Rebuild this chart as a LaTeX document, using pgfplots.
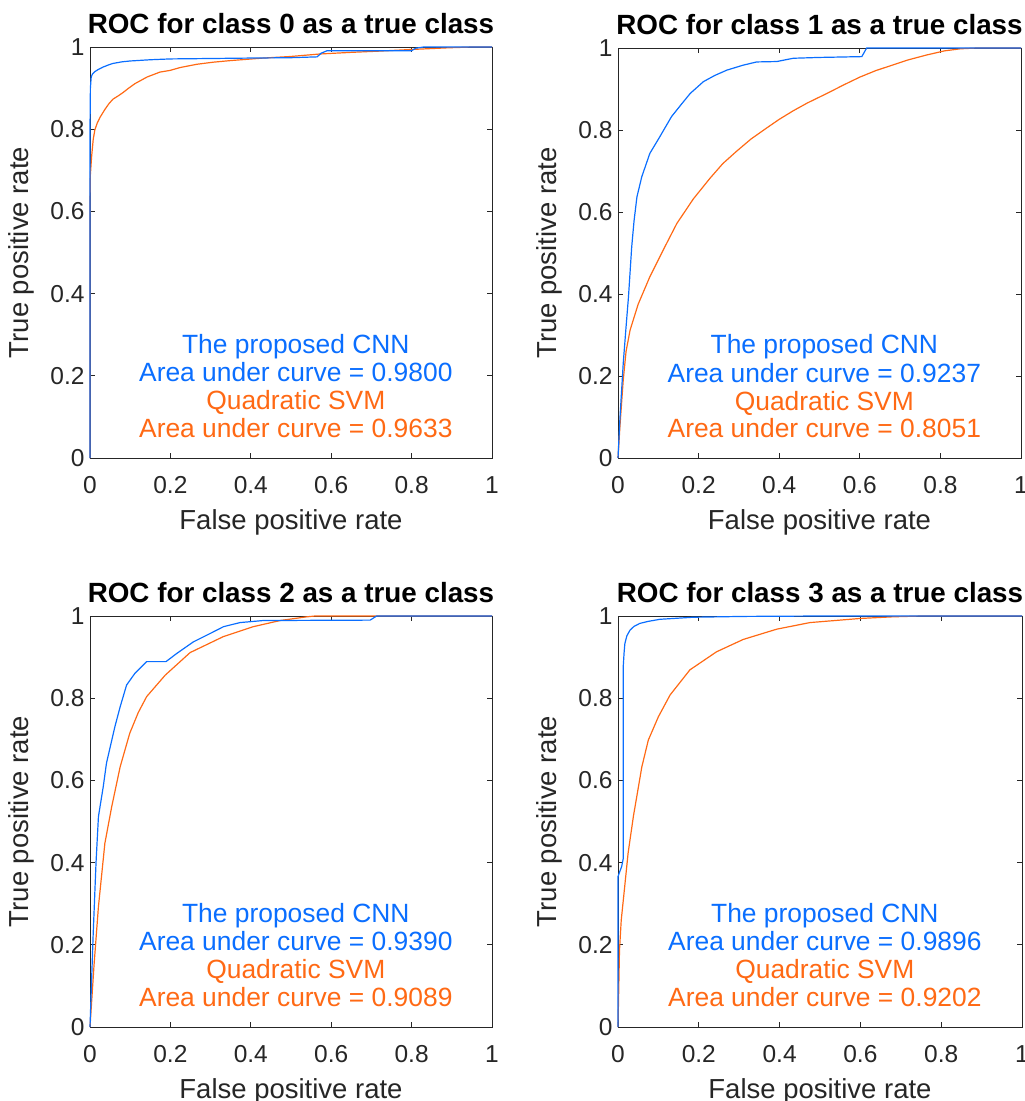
\documentclass[border=0pt]{standalone}
\usepackage{fontspec}
\setmainfont{Liberation Sans}
\usepackage{pgfplots}
\pgfplotsset{compat=1.18}
\definecolor{cnn}{RGB}{10,110,255}
\definecolor{svm}{RGB}{255,105,20}
\definecolor{axgray}{RGB}{38,38,38}
\pgfplotsset{rocax/.style={
  scale only axis, xmin=0,xmax=1,ymin=0,ymax=1, clip=false,
  xtick={0,0.2,0.4,0.6,0.8,1}, ytick={0,0.2,0.4,0.6,0.8,1},
  tick align=inside, major tick length=5pt,
  axis line style={axgray, line width=0.8pt},
  every tick/.style={axgray, line width=0.8pt},
  /pgf/number format/assume math mode=true,
  ticklabel style={font=\fontsize{24.5}{28}\selectfont, text=axgray},
  xticklabel style={yshift=-15pt},
  yticklabel style={xshift=-2pt},
  xlabel={False positive rate}, ylabel={True positive rate},
  every axis x label/.style={at={(axis description cs:0.5,-0.175)}, anchor=base, font=\fontsize{27.5}{30}\selectfont, text=axgray},
  every axis y label/.style={at={(axis description cs:-0.152,0.5)}, rotate=90, anchor=base, font=\fontsize{27.5}{30}\selectfont, text=axgray},
  every axis title/.style={at={(axis description cs:0.5,1.034)}, anchor=base, font=\bfseries\fontsize{27.8}{30}\selectfont},
},
cnnline/.style={cnn, line width=1.2pt},
svmline/.style={svm, line width=1.2pt},
}
\newcommand\auc[2]{%
  \node[anchor=base, text=cnn, font=\fontsize{26.4}{28}\selectfont] at (axis cs:0.512,0.255) {The proposed CNN};
  \node[anchor=base, text=cnn, font=\fontsize{26.4}{28}\selectfont] at (axis cs:0.512,0.185) {Area under curve = #1};
  \node[anchor=base, text=svm, font=\fontsize{26.4}{28}\selectfont] at (axis cs:0.512,0.117) {Quadratic SVM};
  \node[anchor=base, text=svm, font=\fontsize{26.4}{28}\selectfont] at (axis cs:0.512,0.049) {Area under curve = #2};
}
\begin{document}
\begin{tikzpicture}
\path[use as bounding box] (0pt,0pt) rectangle (1025pt,-1101pt);

% ---------- class 0
\begin{axis}[rocax, at={(90pt,-458pt)}, anchor=south west, width=402pt, height=411pt,
  title={ROC for class 0 as a true class}]
\addplot[svmline] coordinates {(0,0) (0,0.62) (0.001,0.69) (0.004,0.733) (0.008,0.775) (0.012,0.798) (0.018,0.815) (0.025,0.829) (0.037,0.848) (0.047,0.862) (0.057,0.873) (0.07,0.881) (0.082,0.889) (0.095,0.899) (0.112,0.911) (0.127,0.919) (0.142,0.927) (0.158,0.933) (0.174,0.939) (0.199,0.943) (0.224,0.950) (0.266,0.958) (0.306,0.963) (0.35,0.967) (0.43,0.973) (0.5,0.977) (0.572,0.983) (0.65,0.987) (0.72,0.990) (0.8,0.994) (0.89,0.998) (0.95,1) (1,1)};
\addplot[cnnline] coordinates {(0,0) (0,0.80) (0.001,0.90) (0.003,0.927) (0.006,0.934) (0.012,0.940) (0.02,0.945) (0.032,0.951) (0.045,0.956) (0.057,0.960) (0.08,0.964) (0.10,0.966) (0.15,0.969) (0.2,0.971) (0.3,0.972) (0.39,0.973) (0.5,0.974) (0.565,0.976) (0.575,0.985) (0.59,0.991) (0.8,0.991) (0.81,0.997) (0.83,1) (1,1)};
\auc{0.9800}{0.9633}
\end{axis}

% ---------- class 1
\begin{axis}[rocax, at={(618pt,-458pt)}, anchor=south west, width=403pt, height=410pt,
  title={ROC for class 1 as a true class}]
\addplot[svmline] coordinates {(0,0) (0.005,0.08) (0.013,0.19) (0.02,0.26) (0.03,0.312) (0.05,0.375) (0.079,0.442) (0.112,0.507) (0.146,0.572) (0.187,0.632) (0.228,0.682) (0.26,0.718) (0.294,0.748) (0.33,0.778) (0.369,0.805) (0.40,0.826) (0.435,0.847) (0.47,0.866) (0.518,0.889) (0.56,0.91) (0.600,0.929) (0.64,0.945) (0.683,0.959) (0.72,0.971) (0.766,0.983) (0.81,0.993) (0.849,0.998) (0.89,1) (1,1)};
\addplot[cnnline] coordinates {(0,0) (0.005,0.1) (0.013,0.231) (0.02,0.32) (0.026,0.393) (0.034,0.515) (0.04,0.58) (0.047,0.637) (0.059,0.686) (0.079,0.743) (0.104,0.784) (0.133,0.833) (0.155,0.86) (0.179,0.889) (0.212,0.918) (0.24,0.933) (0.270,0.946) (0.31,0.958) (0.344,0.966) (0.394,0.967) (0.435,0.975) (0.5,0.977) (0.605,0.979) (0.617,1) (1,1)};
\auc{0.9237}{0.8051}
\end{axis}

% ---------- class 2
\begin{axis}[rocax, at={(90pt,-1027pt)}, anchor=south west, width=402pt, height=411pt,
  title={ROC for class 2 as a true class}]
\addplot[svmline] coordinates {(0,0) (0.01,0.15) (0.021,0.293) (0.037,0.447) (0.054,0.536) (0.075,0.633) (0.099,0.715) (0.12,0.765) (0.141,0.804) (0.187,0.856) (0.249,0.911) (0.332,0.950) (0.406,0.974) (0.473,0.989) (0.539,0.998) (0.56,1) (1,1)};
\addplot[cnnline] coordinates {(0,0) (0.008,0.228) (0.015,0.4) (0.021,0.512) (0.033,0.585) (0.041,0.642) (0.062,0.731) (0.075,0.779) (0.091,0.832) (0.112,0.861) (0.141,0.889) (0.189,0.889) (0.216,0.909) (0.257,0.937) (0.3,0.958) (0.332,0.974) (0.373,0.984) (0.431,0.989) (0.697,0.99) (0.713,1) (1,1)};
\auc{0.9390}{0.9089}
\end{axis}

% ---------- class 3
\begin{axis}[rocax, at={(618pt,-1027pt)}, anchor=south west, width=404pt, height=411pt,
  title={ROC for class 3 as a true class}]
\addplot[svmline] coordinates {(0,0) (0.0037,0.187) (0.008,0.26) (0.0165,0.341) (0.025,0.423) (0.038,0.512) (0.059,0.633) (0.075,0.698) (0.1,0.755) (0.129,0.808) (0.178,0.869) (0.244,0.913) (0.31,0.943) (0.393,0.968) (0.475,0.984) (0.599,0.994) (0.68,0.998) (0.75,1) (1,1)};
\addplot[cnnline] coordinates {(0,0) (0,0.366) (0.005,0.38) (0.009,0.39) (0.013,0.41) (0.013,0.877) (0.015,0.91) (0.017,0.933) (0.022,0.952) (0.03,0.966) (0.04,0.975) (0.054,0.982) (0.075,0.987) (0.104,0.992) (0.186,0.997) (0.31,0.999) (0.5,1) (1,1)};
\auc{0.9896}{0.9202}
\end{axis}
\end{tikzpicture}
\end{document}
